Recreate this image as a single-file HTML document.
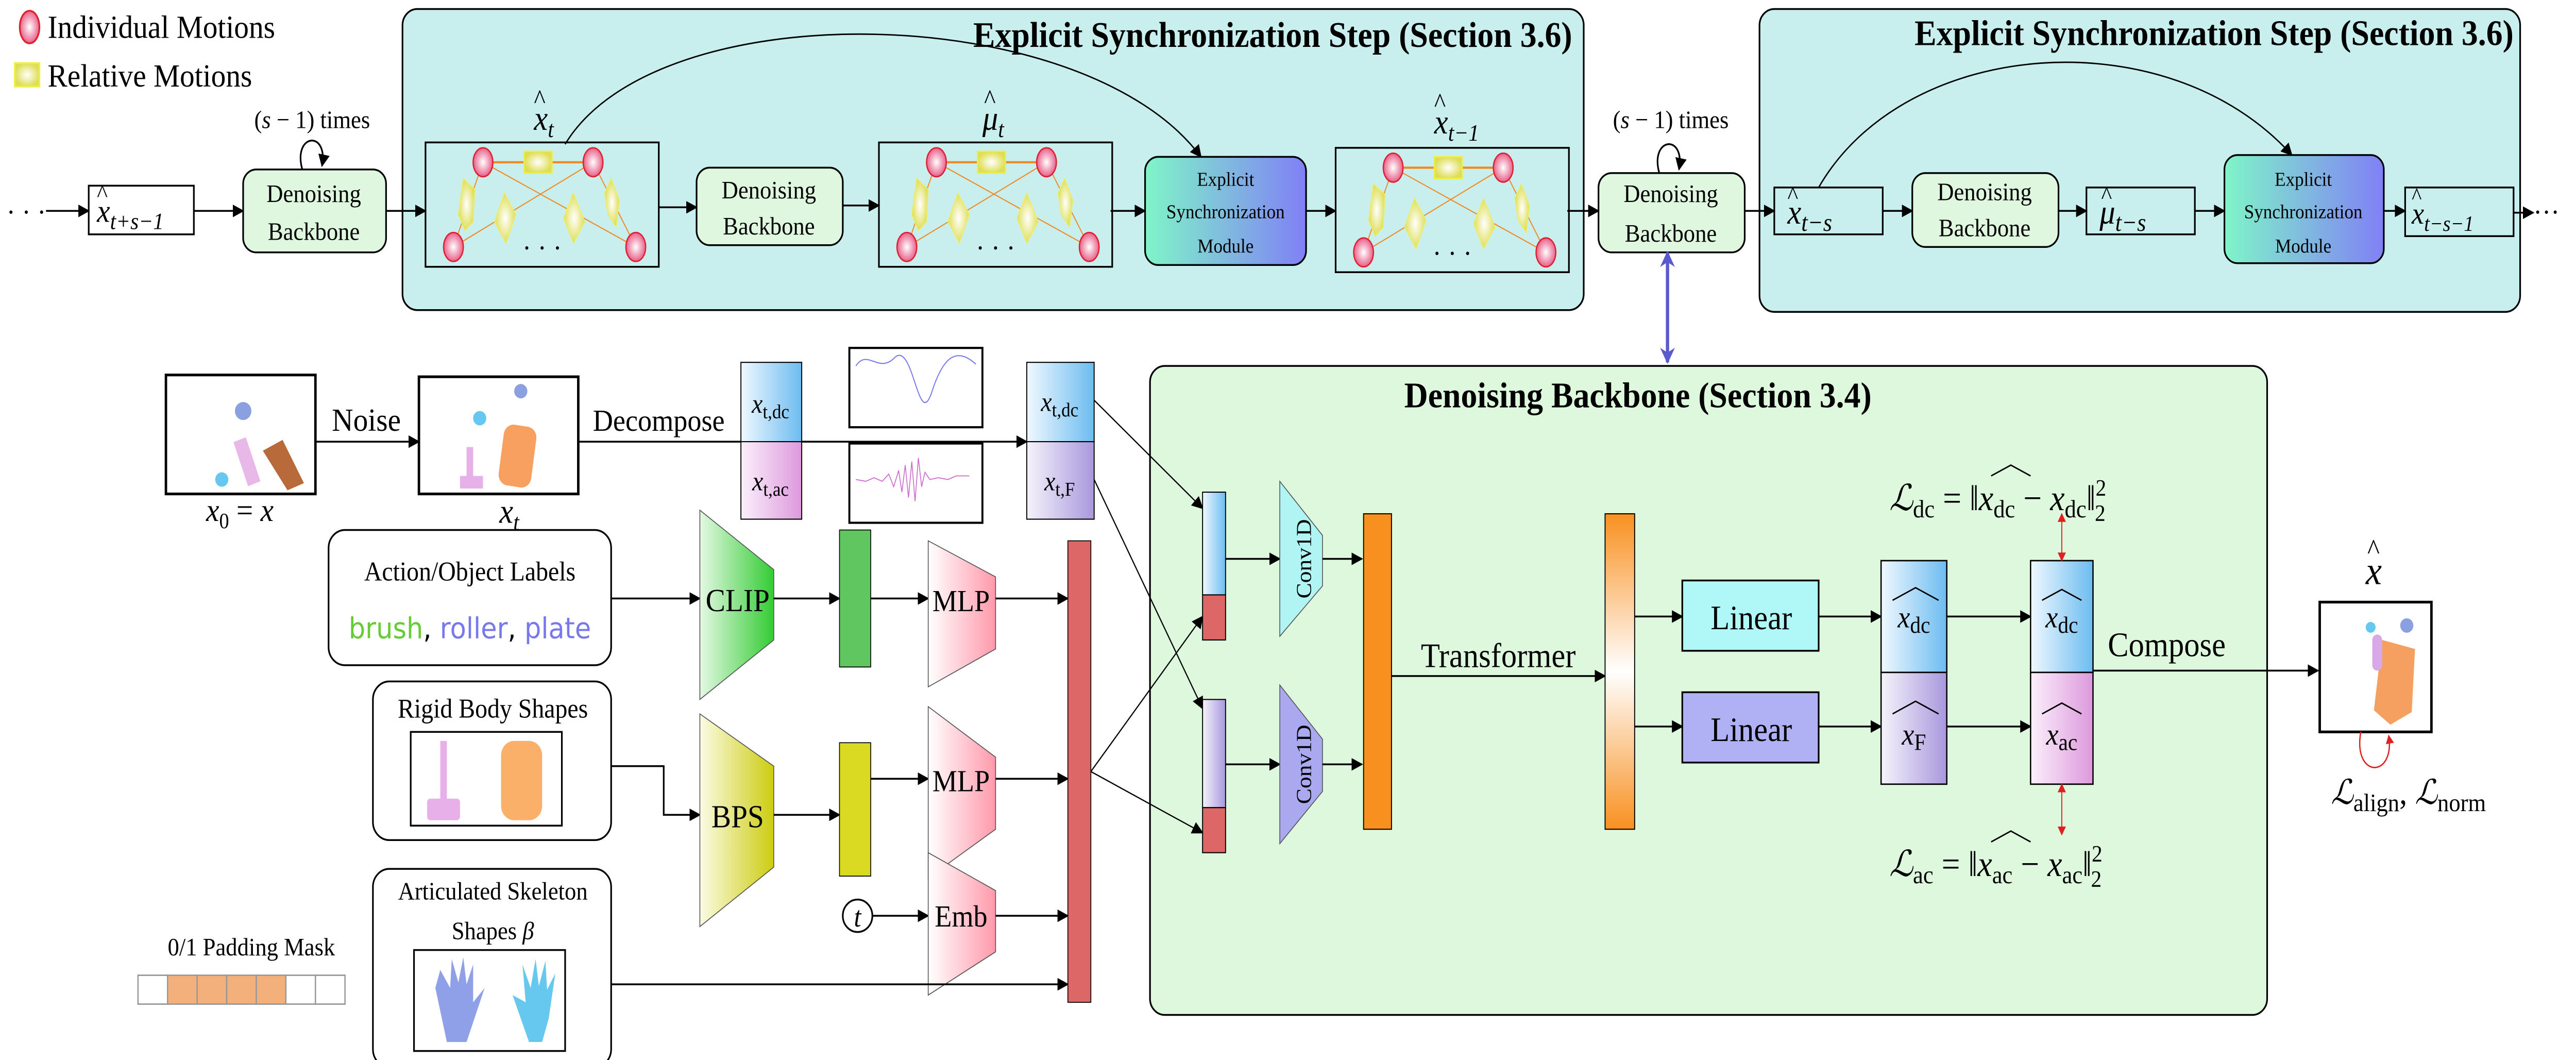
<!DOCTYPE html>
<html><head><meta charset="utf-8"><style>
html,body{margin:0;padding:0;background:#fff;overflow:hidden;width:100vw;height:100vh;}
svg{display:block;position:absolute;left:0;top:0;width:100vw;height:100vh;}
text{font-family:"Liberation Serif",serif;fill:#000;}
.m{font-style:italic;}
</style></head><body>
<svg viewBox="0 0 1568 588" preserveAspectRatio="none" xmlns="http://www.w3.org/2000/svg">
<defs>
<marker id="ar" viewBox="0 0 10 10" refX="9" refY="5" markerWidth="7" markerHeight="7" markerUnits="userSpaceOnUse" orient="auto"><path d="M0,0 L10,5 L0,10 z" fill="#000"/></marker>
<marker id="arr" viewBox="0 0 10 10" refX="9" refY="5" markerWidth="5" markerHeight="6" markerUnits="userSpaceOnUse" orient="auto-start-reverse"><path d="M0,0 L10,5 L0,10 z" fill="#e02020"/></marker>
<marker id="arb" viewBox="0 0 10 10" refX="9" refY="5" markerWidth="9" markerHeight="9" markerUnits="userSpaceOnUse" orient="auto-start-reverse"><path d="M0,0 L10,5 L0,10 L3,5 z" fill="#5a5acc"/></marker>
<radialGradient id="pk"><stop offset="0" stop-color="#fff"/><stop offset="1" stop-color="#e8608a"/></radialGradient>
<radialGradient id="yl"><stop offset="0" stop-color="#fff"/><stop offset="1" stop-color="#dede55"/></radialGradient>
<linearGradient id="esm" x1="0" x2="1"><stop offset="0" stop-color="#7ff5c8"/><stop offset="1" stop-color="#8080f5"/></linearGradient>
<linearGradient id="gb" x1="0" x2="1"><stop offset="0" stop-color="#f0f8ff"/><stop offset="1" stop-color="#6cbcf0"/></linearGradient>
<linearGradient id="gp" x1="0" x2="1"><stop offset="0" stop-color="#fbf0fb"/><stop offset="1" stop-color="#dd99dd"/></linearGradient>
<linearGradient id="gv" x1="0" x2="1"><stop offset="0" stop-color="#f5f3fb"/><stop offset="1" stop-color="#a898dd"/></linearGradient>
<linearGradient id="gclip" x1="0" x2="1"><stop offset="0" stop-color="#e4f8e4"/><stop offset="1" stop-color="#33cc33"/></linearGradient>
<linearGradient id="gbps" x1="0" x2="1"><stop offset="0" stop-color="#fbfbe4"/><stop offset="1" stop-color="#cccc11"/></linearGradient>
<linearGradient id="gmlp" x1="0" x2="1"><stop offset="0" stop-color="#fff"/><stop offset="1" stop-color="#ff99aa"/></linearGradient>
<linearGradient id="gor" x1="0" x2="0" y1="0" y2="1"><stop offset="0" stop-color="#f89020"/><stop offset="0.5" stop-color="#fff"/><stop offset="1" stop-color="#f89020"/></linearGradient>
<g id="mot">
<rect x="0" y="0" width="142" height="69" fill="none" stroke="#000" stroke-width="1"/>
<line x1="35" y1="11" x2="128" y2="58" stroke="#f08a20" stroke-width="0.6"/>
<line x1="102" y1="11" x2="17" y2="58" stroke="#f08a20" stroke-width="0.6"/>
<line x1="35" y1="11" x2="17" y2="58" stroke="#f08a20" stroke-width="0.6"/>
<line x1="102" y1="11" x2="128" y2="58" stroke="#f08a20" stroke-width="0.6"/>
<line x1="35" y1="11" x2="102" y2="11" stroke="#f08a20" stroke-width="1.2"/>
<rect x="60" y="5" width="17" height="12" fill="url(#yl)" stroke="#eeee44" stroke-width="0.8"/>
<polygon points="23,20 30,26 29,44 24,49 20,40" fill="url(#yl)" stroke="#eeee66" stroke-width="0.5"/>
<polygon points="113,20 118,32 116,47 111,40 109,28" fill="url(#yl)" stroke="#eeee66" stroke-width="0.5"/>
<polygon points="48,28 55,40 49,56 42,44" fill="url(#yl)" stroke="#eeee66" stroke-width="0.5"/>
<polygon points="90,28 97,44 90,56 84,42" fill="url(#yl)" stroke="#eeee66" stroke-width="0.5"/>
<ellipse cx="35" cy="11" rx="6" ry="8" fill="url(#pk)" stroke="#e02030" stroke-width="0.8"/>
<ellipse cx="102" cy="11" rx="6" ry="8" fill="url(#pk)" stroke="#e02030" stroke-width="0.8"/>
<ellipse cx="17" cy="58" rx="6" ry="8" fill="url(#pk)" stroke="#e02030" stroke-width="0.8"/>
<ellipse cx="128" cy="58" rx="6" ry="8" fill="url(#pk)" stroke="#e02030" stroke-width="0.8"/>
<text x="71" y="64" font-size="16" text-anchor="middle">· · ·</text>
</g>
</defs>

<!-- legend -->
<ellipse cx="18" cy="15" rx="6" ry="9" fill="url(#pk)" stroke="#e02030"/>
<text x="29" y="21" font-size="18">Individual Motions</text>
<rect x="9" y="35" width="15" height="13" fill="url(#yl)" stroke="#eeee44"/>
<text x="29" y="48" font-size="18">Relative Motions</text>

<!-- top box 1 -->
<rect x="245" y="5" width="719" height="167" rx="9" fill="#c8eeee" stroke="#000" stroke-width="1"/>
<text x="957" y="26" font-size="20" font-weight="bold" text-anchor="end">Explicit Synchronization Step (Section 3.6)</text>
<!-- top box 2 -->
<rect x="1071" y="5" width="463" height="168" rx="9" fill="#c8eeee" stroke="#000" stroke-width="1"/>
<text x="1530" y="25" font-size="20" font-weight="bold" text-anchor="end">Explicit Synchronization Step (Section 3.6)</text>

<text x="4" y="123" font-size="16">· · ·</text>
<line x1="28" y1="117" x2="54" y2="117" stroke="#000" marker-end="url(#ar)"/>
<rect x="54" y="103" width="64" height="27" fill="#fff" stroke="#000"/>
<text x="59" y="123" font-size="18" class="m">x<tspan font-size="13" dy="4">t+s−1</tspan></text>
<text x="59" y="112" font-size="14">^</text>
<line x1="118" y1="117" x2="148" y2="117" stroke="#000" marker-end="url(#ar)"/>
<rect x="148" y="94" width="87" height="46" rx="8" fill="#dff7df" stroke="#000"/>
<text x="191" y="112" font-size="14" text-anchor="middle">Denoising</text>
<text x="191" y="133" font-size="14" text-anchor="middle">Backbone</text>
<text x="190" y="71" font-size="14" text-anchor="middle">(<tspan class="m">s</tspan> − 1) times</text>
<path d="M184,94 C178,74 200,72 196,92" fill="none" stroke="#000" marker-end="url(#ar)"/>
<line x1="235" y1="117" x2="259" y2="117" stroke="#000" marker-end="url(#ar)"/>

<use href="#mot" x="259" y="79"/>
<text x="325" y="72" font-size="19" class="m">x<tspan font-size="13" dy="4">t</tspan></text>
<text x="325" y="60" font-size="15">^</text>
<line x1="401" y1="115" x2="424" y2="115" stroke="#000" marker-end="url(#ar)"/>
<rect x="424" y="93" width="89" height="43" rx="8" fill="#dff7df" stroke="#000"/>
<text x="468" y="110" font-size="14" text-anchor="middle">Denoising</text>
<text x="468" y="130" font-size="14" text-anchor="middle">Backbone</text>
<line x1="513" y1="114" x2="535" y2="114" stroke="#000" marker-end="url(#ar)"/>
<use href="#mot" x="535" y="79"/>
<text x="598" y="72" font-size="19" class="m">μ<tspan font-size="13" dy="4">t</tspan></text>
<text x="599" y="60" font-size="15">^</text>
<line x1="676" y1="117" x2="697" y2="117" stroke="#000" marker-end="url(#ar)"/>
<rect x="697" y="87" width="98" height="60" rx="8" fill="url(#esm)" stroke="#000"/>
<text x="746" y="103" font-size="11" text-anchor="middle">Explicit</text>
<text x="746" y="121" font-size="11" text-anchor="middle">Synchronization</text>
<text x="746" y="140" font-size="11" text-anchor="middle">Module</text>
<line x1="795" y1="117" x2="813" y2="117" stroke="#000" marker-end="url(#ar)"/>
<use href="#mot" x="813" y="82"/>
<text x="873" y="74" font-size="19" class="m">x<tspan font-size="13" dy="4">t−1</tspan></text>
<text x="873" y="62" font-size="15">^</text>
<path d="M344,80 C400,-5 660,0 731,87" fill="none" stroke="#000" stroke-width="0.8" marker-end="url(#ar)"/>
<line x1="954" y1="117" x2="973" y2="117" stroke="#000" marker-end="url(#ar)"/>

<rect x="973" y="96" width="89" height="44" rx="8" fill="#dff7df" stroke="#000"/>
<text x="1017" y="112" font-size="14" text-anchor="middle">Denoising</text>
<text x="1017" y="134" font-size="14" text-anchor="middle">Backbone</text>
<text x="1017" y="71" font-size="14" text-anchor="middle">(<tspan class="m">s</tspan> − 1) times</text>
<path d="M1010,96 C1004,76 1026,74 1022,94" fill="none" stroke="#000" marker-end="url(#ar)"/>
<line x1="1015" y1="140" x2="1015" y2="201" stroke="#5a5acc" stroke-width="2" marker-start="url(#arb)" marker-end="url(#arb)"/>

<line x1="1062" y1="117" x2="1080" y2="117" stroke="#000" marker-end="url(#ar)"/>
<rect x="1080" y="104" width="66" height="26" fill="none" stroke="#000"/>
<text x="1088" y="124" font-size="19" class="m">x<tspan font-size="14" dy="4">t−s</tspan></text>
<text x="1088" y="113" font-size="14">^</text>
<line x1="1146" y1="117" x2="1164" y2="117" stroke="#000" marker-end="url(#ar)"/>
<rect x="1164" y="96" width="89" height="41" rx="8" fill="#dff7df" stroke="#000"/>
<text x="1208" y="111" font-size="14" text-anchor="middle">Denoising</text>
<text x="1208" y="131" font-size="14" text-anchor="middle">Backbone</text>
<line x1="1253" y1="117" x2="1270" y2="117" stroke="#000" marker-end="url(#ar)"/>
<rect x="1270" y="104" width="66" height="26" fill="none" stroke="#000"/>
<text x="1278" y="124" font-size="19" class="m">μ<tspan font-size="14" dy="4">t−s</tspan></text>
<text x="1279" y="113" font-size="14">^</text>
<line x1="1336" y1="117" x2="1354" y2="117" stroke="#000" marker-end="url(#ar)"/>
<rect x="1354" y="86" width="97" height="60" rx="8" fill="url(#esm)" stroke="#000"/>
<text x="1402" y="103" font-size="11" text-anchor="middle">Explicit</text>
<text x="1402" y="121" font-size="11" text-anchor="middle">Synchronization</text>
<text x="1402" y="140" font-size="11" text-anchor="middle">Module</text>
<line x1="1451" y1="117" x2="1464" y2="117" stroke="#000" marker-end="url(#ar)"/>
<rect x="1464" y="104" width="66" height="27" fill="none" stroke="#000"/>
<text x="1468" y="124" font-size="17" class="m">x<tspan font-size="12" dy="4">t−s−1</tspan></text>
<text x="1468" y="113" font-size="13">^</text>
<line x1="1530" y1="118" x2="1542" y2="118" stroke="#000" marker-end="url(#ar)"/>
<text x="1542" y="123" font-size="16">···</text>
<path d="M1107,104 C1160,20 1320,10 1395,86" fill="none" stroke="#000" stroke-width="0.8" marker-end="url(#ar)"/>

<!-- bottom green box -->
<rect x="700" y="203" width="680" height="360" rx="9" fill="#ddf8dd" stroke="#000"/>
<text x="997" y="226" font-size="20" font-weight="bold" text-anchor="middle">Denoising Backbone (Section 3.4)</text>

<!-- x0 -->
<rect x="101" y="208" width="91" height="66" fill="#fff" stroke="#000" stroke-width="1.5"/>
<path d="M160,250 L172,244 L185,268 L175,272 Z" fill="#b86a3a"/>
<rect x="147" y="243" width="8" height="26" fill="#e8b8e8" transform="rotate(-20 151 258)"/>
<circle cx="148" cy="228" r="5" fill="#8aa0e0"/><circle cx="135" cy="266" r="4" fill="#66c8ee"/>
<text x="146" y="289" font-size="18" text-anchor="middle"><tspan class="m">x</tspan><tspan font-size="12" dy="4">0</tspan><tspan dy="-4"> = </tspan><tspan class="m">x</tspan></text>
<line x1="192" y1="245" x2="255" y2="245" stroke="#000" marker-end="url(#ar)"/>
<text x="223" y="239" font-size="18" text-anchor="middle">Noise</text>
<rect x="255" y="209" width="97" height="65" fill="#fff" stroke="#000" stroke-width="1.5"/>
<rect x="305" y="236" width="20" height="34" rx="6" fill="#f8a060" transform="rotate(8 315 253)"/>
<rect x="284" y="248" width="4" height="18" fill="#e8b0e8"/><rect x="280" y="264" width="14" height="7" fill="#e8b0e8"/>
<circle cx="292" cy="232" r="4" fill="#66c8ee"/><circle cx="317" cy="217" r="4" fill="#8aa0e0"/>
<text x="310" y="290" font-size="19" class="m" text-anchor="middle">x<tspan font-size="13" dy="4">t</tspan></text>
<line x1="352" y1="245" x2="625" y2="245" stroke="#000" marker-end="url(#ar)"/>
<text x="401" y="239" font-size="17" text-anchor="middle">Decompose</text>
<rect x="451" y="201" width="37" height="44" fill="url(#gb)" stroke="#000" stroke-width="0.6"/>
<rect x="451" y="245" width="37" height="43" fill="url(#gp)" stroke="#000" stroke-width="0.6"/>
<text x="469" y="229" font-size="15" class="m" text-anchor="middle">x<tspan font-size="11" dy="3" font-style="normal">t,dc</tspan></text>
<text x="469" y="272" font-size="15" class="m" text-anchor="middle">x<tspan font-size="11" dy="3" font-style="normal">t,ac</tspan></text>
<rect x="517" y="193" width="81" height="44" fill="#fff" stroke="#000" stroke-width="1.2"/>
<path d="M521,203 C528,193 535,208 545,198 C556,190 559,239 567,218 C574,198 582,192 594,202" fill="none" stroke="#7777ee" stroke-width="0.6"/>
<rect x="517" y="246" width="81" height="44" fill="#fff" stroke="#000" stroke-width="1.2"/>
<path d="M521,266 l6,1 l5,-2 l5,2 l4,-4 l3,7 l3,-9 l2,12 l2,-15 l2,18 l2,-20 l2,22 l2,-24 l2,16 l2,-8 l3,4 l5,-1 l6,1 l5,-2 l8,0" fill="none" stroke="#cc66cc" stroke-width="0.5"/>
<rect x="625" y="201" width="41" height="44" fill="url(#gb)" stroke="#000" stroke-width="0.6"/>
<rect x="625" y="245" width="41" height="43" fill="url(#gv)" stroke="#000" stroke-width="0.6"/>
<text x="645" y="228" font-size="15" class="m" text-anchor="middle">x<tspan font-size="11" dy="3" font-style="normal">t,dc</tspan></text>
<text x="645" y="272" font-size="15" class="m" text-anchor="middle">x<tspan font-size="11" dy="3" font-style="normal">t,F</tspan></text>

<!-- inputs -->
<rect x="200" y="294" width="172" height="75" rx="10" fill="#fff" stroke="#000"/>
<text x="286" y="322" font-size="15" text-anchor="middle">Action/Object Labels</text>
<text x="286" y="354" font-size="16" text-anchor="middle" style="font-family:'DejaVu Sans',sans-serif"><tspan fill="#66cc33">brush</tspan>, <tspan fill="#7777ee">roller</tspan>, <tspan fill="#7777ee">plate</tspan></text>
<line x1="372" y1="332" x2="426" y2="332" stroke="#000" marker-end="url(#ar)"/>
<polygon points="426,283 471,316 471,355 426,388" fill="url(#gclip)" stroke="#555" stroke-width="0.5"/>
<text x="449" y="339" font-size="18" text-anchor="middle">CLIP</text>
<line x1="471" y1="332" x2="511" y2="332" stroke="#000" marker-end="url(#ar)"/>
<rect x="511" y="294" width="19" height="76" fill="#60c660" stroke="#000" stroke-width="0.5"/>
<line x1="530" y1="332" x2="565" y2="332" stroke="#000" marker-end="url(#ar)"/>
<polygon points="565,300 606,320 606,360 565,381" fill="url(#gmlp)" stroke="#555" stroke-width="0.5"/>
<text x="585" y="339" font-size="17" text-anchor="middle">MLP</text>
<line x1="606" y1="332" x2="650" y2="332" stroke="#000" marker-end="url(#ar)"/>

<rect x="227" y="378" width="145" height="88" rx="10" fill="#fff" stroke="#000"/>
<text x="300" y="398" font-size="15" text-anchor="middle">Rigid Body Shapes</text>
<rect x="250" y="406" width="92" height="52" fill="#fff" stroke="#000"/>
<rect x="268" y="411" width="4" height="34" fill="#e8b0e8"/><rect x="260" y="443" width="20" height="12" rx="2" fill="#e8b0e8"/>
<rect x="305" y="411" width="25" height="44" rx="8" fill="#fbb06a"/>
<polyline points="372,425 404,425 404,452 426,452" fill="none" stroke="#000" marker-end="url(#ar)"/>
<polygon points="426,396 471,425 471,481 426,514" fill="url(#gbps)" stroke="#555" stroke-width="0.5"/>
<text x="449" y="459" font-size="18" text-anchor="middle">BPS</text>
<line x1="471" y1="452" x2="511" y2="452" stroke="#000" marker-end="url(#ar)"/>
<rect x="511" y="412" width="19" height="74" fill="#dada22" stroke="#000" stroke-width="0.5"/>
<line x1="530" y1="432" x2="565" y2="432" stroke="#000" marker-end="url(#ar)"/>
<polygon points="565,392 606,420 606,460 565,487" fill="url(#gmlp)" stroke="#555" stroke-width="0.5"/>
<text x="585" y="439" font-size="17" text-anchor="middle">MLP</text>
<line x1="606" y1="432" x2="650" y2="432" stroke="#000" marker-end="url(#ar)"/>
<circle cx="522" cy="508" r="9" fill="#fff" stroke="#000"/>
<text x="522" y="514" font-size="16" class="m" text-anchor="middle">t</text>
<line x1="531" y1="508" x2="565" y2="508" stroke="#000" marker-end="url(#ar)"/>
<polygon points="565,473 606,494 606,528 565,552" fill="url(#gmlp)" stroke="#555" stroke-width="0.5"/>
<text x="585" y="514" font-size="17" text-anchor="middle">Emb</text>
<line x1="606" y1="508" x2="650" y2="508" stroke="#000" marker-end="url(#ar)"/>

<rect x="227" y="482" width="145" height="110" rx="10" fill="#fff" stroke="#000"/>
<text x="300" y="499" font-size="14" text-anchor="middle">Articulated Skeleton</text>
<text x="300" y="521" font-size="14" text-anchor="middle">Shapes <tspan class="m">β</tspan></text>
<rect x="252" y="527" width="92" height="56" fill="#fff" stroke="#000"/>
<path d="M272,578 L265,548 L268,538 L274,548 L275,532 L279,545 L282,531 L284,546 L288,535 L288,556 L295,548 L284,578 Z" fill="#8fa0e8"/>
<path d="M322,578 L312,552 L320,556 L318,535 L323,548 L326,532 L328,547 L332,533 L333,549 L338,540 L334,565 L330,578 Z" fill="#66c8ee"/>
<text x="153" y="530" font-size="14" text-anchor="middle">0/1 Padding Mask</text>
<g stroke="#999" stroke-width="0.8">
<rect x="84" y="541" width="18" height="16" fill="#fff"/><rect x="102" y="541" width="18" height="16" fill="#f4b07a"/><rect x="120" y="541" width="18" height="16" fill="#f4b07a"/><rect x="138" y="541" width="18" height="16" fill="#f4b07a"/><rect x="156" y="541" width="18" height="16" fill="#f4b07a"/><rect x="174" y="541" width="18" height="16" fill="#fff"/><rect x="192" y="541" width="18" height="16" fill="#fff"/>
</g>
<line x1="372" y1="546" x2="650" y2="546" stroke="#000" marker-end="url(#ar)"/>
<rect x="650" y="300" width="14" height="256" fill="#dd6666" stroke="#000" stroke-width="0.5"/>

<!-- connections into backbone -->
<line x1="666" y1="222" x2="732" y2="282" stroke="#000" stroke-width="0.7" marker-end="url(#ar)"/>
<line x1="666" y1="266" x2="732" y2="393" stroke="#000" stroke-width="0.7" marker-end="url(#ar)"/>
<line x1="664" y1="428" x2="732" y2="342" stroke="#000" stroke-width="0.7" marker-end="url(#ar)"/>
<line x1="664" y1="428" x2="732" y2="462" stroke="#000" stroke-width="0.7" marker-end="url(#ar)"/>
<rect x="732" y="273" width="14" height="57" fill="url(#gb)" stroke="#000" stroke-width="0.6"/>
<rect x="732" y="330" width="14" height="25" fill="#dd6666" stroke="#000" stroke-width="0.6"/>
<rect x="732" y="388" width="14" height="60" fill="url(#gv)" stroke="#000" stroke-width="0.6"/>
<rect x="732" y="448" width="14" height="25" fill="#dd6666" stroke="#000" stroke-width="0.6"/>
<line x1="746" y1="310" x2="779" y2="310" stroke="#000" marker-end="url(#ar)"/>
<line x1="746" y1="424" x2="779" y2="424" stroke="#000" marker-end="url(#ar)"/>
<polygon points="779,267 805,297 805,325 779,353" fill="#b0f4f4" stroke="#555" stroke-width="0.5"/>
<polygon points="779,380 805,410 805,439 779,468" fill="#aaa8ee" stroke="#555" stroke-width="0.5"/>
<text transform="translate(798,310) rotate(-90)" font-size="13" text-anchor="middle">Conv1D</text>
<text transform="translate(798,424) rotate(-90)" font-size="13" text-anchor="middle">Conv1D</text>
<line x1="805" y1="310" x2="829" y2="310" stroke="#000" marker-end="url(#ar)"/>
<line x1="805" y1="424" x2="829" y2="424" stroke="#000" marker-end="url(#ar)"/>
<rect x="830" y="285" width="17" height="175" fill="#f89020" stroke="#000" stroke-width="0.6"/>
<line x1="847" y1="375" x2="977" y2="375" stroke="#000" marker-end="url(#ar)"/>
<text x="912" y="370" font-size="19" text-anchor="middle">Transformer</text>
<rect x="977" y="285" width="18" height="175" fill="url(#gor)" stroke="#000" stroke-width="0.6"/>
<line x1="995" y1="342" x2="1024" y2="342" stroke="#000" marker-end="url(#ar)"/>
<line x1="995" y1="403" x2="1024" y2="403" stroke="#000" marker-end="url(#ar)"/>
<rect x="1024" y="322" width="83" height="39" fill="#b0f8f8" stroke="#000"/>
<rect x="1024" y="384" width="83" height="39" fill="#b0b0f4" stroke="#000"/>
<text x="1066" y="349" font-size="19" text-anchor="middle">Linear</text>
<text x="1066" y="411" font-size="19" text-anchor="middle">Linear</text>
<line x1="1107" y1="342" x2="1145" y2="342" stroke="#000" marker-end="url(#ar)"/>
<line x1="1107" y1="403" x2="1145" y2="403" stroke="#000" marker-end="url(#ar)"/>
<rect x="1145" y="311" width="40" height="62" fill="url(#gb)" stroke="#000" stroke-width="0.8"/>
<rect x="1145" y="373" width="40" height="62" fill="url(#gv)" stroke="#000" stroke-width="0.8"/>
<text x="1165" y="348" font-size="17" class="m" text-anchor="middle">x<tspan font-size="13" dy="3" font-style="normal">dc</tspan></text>
<path d="M1152,333 L1166,326 L1180,333" fill="none" stroke="#000" stroke-width="0.8"/>
<text x="1165" y="413" font-size="17" class="m" text-anchor="middle">x<tspan font-size="13" dy="3" font-style="normal">F</tspan></text>
<path d="M1152,396 L1166,389 L1180,396" fill="none" stroke="#000" stroke-width="0.8"/>
<line x1="1185" y1="342" x2="1236" y2="342" stroke="#000" marker-end="url(#ar)"/>
<line x1="1185" y1="403" x2="1236" y2="403" stroke="#000" marker-end="url(#ar)"/>
<rect x="1236" y="311" width="38" height="62" fill="url(#gb)" stroke="#000" stroke-width="0.8"/>
<rect x="1236" y="373" width="38" height="62" fill="url(#gp)" stroke="#000" stroke-width="0.8"/>
<text x="1255" y="348" font-size="17" class="m" text-anchor="middle">x<tspan font-size="13" dy="3" font-style="normal">dc</tspan></text>
<path d="M1243,333 L1255,327 L1267,333" fill="none" stroke="#000" stroke-width="0.8"/>
<text x="1255" y="413" font-size="17" class="m" text-anchor="middle">x<tspan font-size="13" dy="3" font-style="normal">ac</tspan></text>
<path d="M1243,396 L1255,390 L1267,396" fill="none" stroke="#000" stroke-width="0.8"/>
<line x1="1255" y1="285" x2="1255" y2="311" stroke="#e02020" stroke-width="0.6" marker-start="url(#arr)" marker-end="url(#arr)"/>
<line x1="1255" y1="435" x2="1255" y2="463" stroke="#e02020" stroke-width="0.6" marker-start="url(#arr)" marker-end="url(#arr)"/>
<text x="1150" y="283" font-size="20"><tspan class="m">ℒ</tspan><tspan font-size="14" dy="4">dc</tspan><tspan dy="-4"> = ‖</tspan><tspan class="m">x</tspan><tspan font-size="14" dy="4">dc</tspan><tspan dy="-4"> − </tspan><tspan class="m">x</tspan><tspan font-size="14" dy="4">dc</tspan><tspan dy="-4">‖</tspan><tspan font-size="13" dy="-8">2</tspan><tspan font-size="13" dx="-7" dy="14">2</tspan></text>
<path d="M1212,264 L1224,258 L1236,264" fill="none" stroke="#000" stroke-width="0.8"/>
<text x="1150" y="486" font-size="20"><tspan class="m">ℒ</tspan><tspan font-size="14" dy="4">ac</tspan><tspan dy="-4"> = ‖</tspan><tspan class="m">x</tspan><tspan font-size="14" dy="4">ac</tspan><tspan dy="-4"> − </tspan><tspan class="m">x</tspan><tspan font-size="14" dy="4">ac</tspan><tspan dy="-4">‖</tspan><tspan font-size="13" dy="-8">2</tspan><tspan font-size="13" dx="-7" dy="14">2</tspan></text>
<path d="M1212,467 L1224,461 L1236,467" fill="none" stroke="#000" stroke-width="0.8"/>
<text x="1283" y="364" font-size="19">Compose</text>
<line x1="1274" y1="372" x2="1411" y2="372" stroke="#000" marker-end="url(#ar)"/>

<rect x="1412" y="334" width="68" height="72" fill="#fff" stroke="#000" stroke-width="1.5"/>
<path d="M1450,355 L1470,360 L1468,395 L1455,402 L1445,394 Z" fill="#f5a060"/>
<rect x="1444" y="352" width="6" height="20" rx="3" fill="#d8a8e8"/>
<circle cx="1443" cy="348" r="3" fill="#66c8ee"/><circle cx="1465" cy="347" r="4" fill="#8aa0e0"/>
<text x="1440" y="324" font-size="22" class="m">x</text>
<text x="1441" y="310" font-size="16">^</text>
<path d="M1437,406 C1432,432 1458,432 1454,408" fill="none" stroke="#e02020" stroke-width="0.8" marker-end="url(#arr)"/>
<text x="1466" y="446" font-size="19" text-anchor="middle"><tspan class="m">ℒ</tspan><tspan font-size="14" dy="4">align</tspan><tspan dy="-4">, </tspan><tspan class="m">ℒ</tspan><tspan font-size="14" dy="4">norm</tspan></text>
</svg>
</body></html>
